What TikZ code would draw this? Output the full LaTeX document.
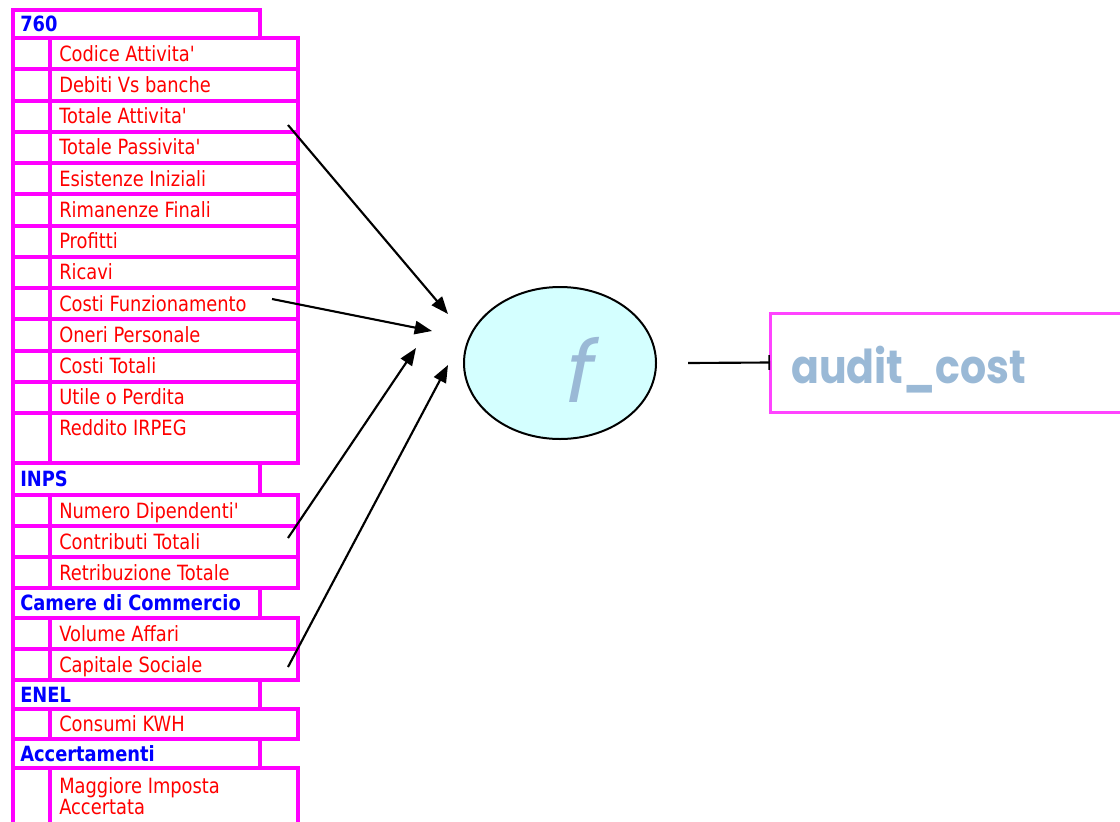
\documentclass[tikz,border=0pt]{standalone}
\usepackage{fontspec}
\setmainfont{DejaVu Sans}[FakeStretch=0.85, Ligatures=TeXOff]
\newfontfamily\auditfont{Poppins}[FakeStretch=0.88]
\newfontfamily\funcfont{Poppins}[FakeSlant=0.2]
\usetikzlibrary{arrows.meta,shapes.geometric}

\definecolor{tabmag}{HTML}{FF00FF}
\definecolor{boxmag}{HTML}{FF44FF}
\definecolor{fieldred}{HTML}{FF0000}
\definecolor{groupblue}{HTML}{0000FF}
\definecolor{funcfill}{HTML}{D4FFFF}
\definecolor{steel}{HTML}{9AB9D6}

\begin{document}
\begin{tikzpicture}[
  x=0.75pt, y=-0.75pt,
  font=\fontsize{15.75pt}{15.75pt}\selectfont,
  tabline/.style={draw=tabmag, line width=3pt},
  cellbase/.style={tabline, rectangle, inner sep=0pt, outer sep=0pt, anchor=north west},
  keycell/.style={cellbase, minimum width=27.75pt},
  fieldcell/.style={cellbase, minimum width=186pt},
  groupcell/.style={cellbase, minimum width=185.25pt},
  fieldtext/.style={text=fieldred, anchor=base west, inner sep=0pt, align=left},
  grouptext/.style={text=groupblue, font=\fontsize{15.75pt}{15.75pt}\selectfont\bfseries, anchor=base west, inner sep=0pt},
  conn/.style={line width=1.6pt, -{Triangle[length=13pt,width=10pt]}},
]
\useasboundingbox (0,0) rectangle (1120,821);
\clip (0,0) rectangle (1120,821);

% group header rows: name / label / top / bottom
\foreach \nm/\lab/\t/\b in {
  g760/760/10/38,
  ginps/INPS/463/495,
  gcam/Camere di Commercio/588/618,
  genel/ENEL/680/709,
  gacc/Accertamenti/739/768} {
  \pgfmathsetmacro\h{(\b-\t)*0.75}
  \node[groupcell, minimum height=\h pt] (\nm) at (13,\t) {};
  \node[grouptext] (\nm-t) at (20,{(\t+\b)/2+7.5}) {\lab};
}

% field rows: name / label / top / bottom / baseline of the last line
\foreach \nm/\lab/\t/\b/\y in {
  cod/Codice Attivita'/38/69.25/61,
  deb/Debiti Vs banche/69.25/100.5/92.4,
  tatt/Totale Attivita'/100.5/131.75/123.6,
  tpas/Totale Passivita'/131.75/163/154.9,
  esi/Esistenze Iniziali/163/194.25/186.1,
  rim/Rimanenze Finali/194.25/225.5/217.4,
  pro/Profitti/225.5/256.75/248.6,
  ric/Ricavi/256.75/288/279.9,
  cfun/Costi Funzionamento/288/319.25/311.1,
  oner/Oneri Personale/319.25/350.5/342.4,
  ctot/Costi Totali/350.5/381.75/373.6,
  util/Utile o Perdita/381.75/413/404.9,
  redd/Reddito IRPEG/413/463/435.5,
  ndip/Numero Dipendenti'/495/526/518,
  contr/Contributi Totali/526/557/549,
  retr/Retribuzione Totale/557/588/580,
  vol/Volume Affari/618/649/641,
  cap/Capitale Sociale/649/680/672,
  kwh/Consumi KWH/709/739/731.5,
  magg/{Maggiore Imposta\\Accertata}/768/850/814} {
  \pgfmathsetmacro\h{(\b-\t)*0.75}
  \node[keycell, minimum height=\h pt] (\nm-k) at (13,\t) {};
  \node[fieldcell, minimum height=\h pt] (\nm) at (50,\t) {};
  \node[fieldtext] (\nm-t) at (59,\y) {\lab};
}

% the function and its result
\node[ellipse, draw, line width=1.5pt, fill=funcfill,
      minimum width=144pt, minimum height=114pt] (f) at (560,363) {};
\node[text=steel, anchor=base, inner sep=0pt,
      font=\funcfont\fontsize{64pt}{64pt}\selectfont] (f-t) at (576,402) {f};
\node[draw=boxmag, line width=2.25pt, rectangle, inner sep=0pt, outer sep=0pt,
      anchor=north west, minimum width=285pt, minimum height=74.25pt] (audit) at (770,313) {};
\node[text=steel, anchor=base west, inner sep=0pt,
      font=\auditfont\bfseries\fontsize{35pt}{35pt}\selectfont] (audit-t) at (791,383) {audit\_cost};

% connector ends
\coordinate (s1) at (288,125);
\coordinate (s2) at (272,299);
\coordinate (s3) at (288,538);
\coordinate (s4) at (288,667);
\coordinate (e1) at (448,314);
\coordinate (e2) at (432,331);
\coordinate (e3) at (416,348);
\coordinate (e4) at (448,365);
\coordinate (fout) at (688,363);

\draw[conn] (s1) -- (e1);
\draw[conn] (s2) -- (e2);
\draw[conn] (s3) -- (e3);
\draw[conn] (s4) -- (e4);
\draw[line width=1.6pt, -{Bar[width=11pt,line width=1.2pt]}] (fout) -- (audit.west);
\end{tikzpicture}
\end{document}
